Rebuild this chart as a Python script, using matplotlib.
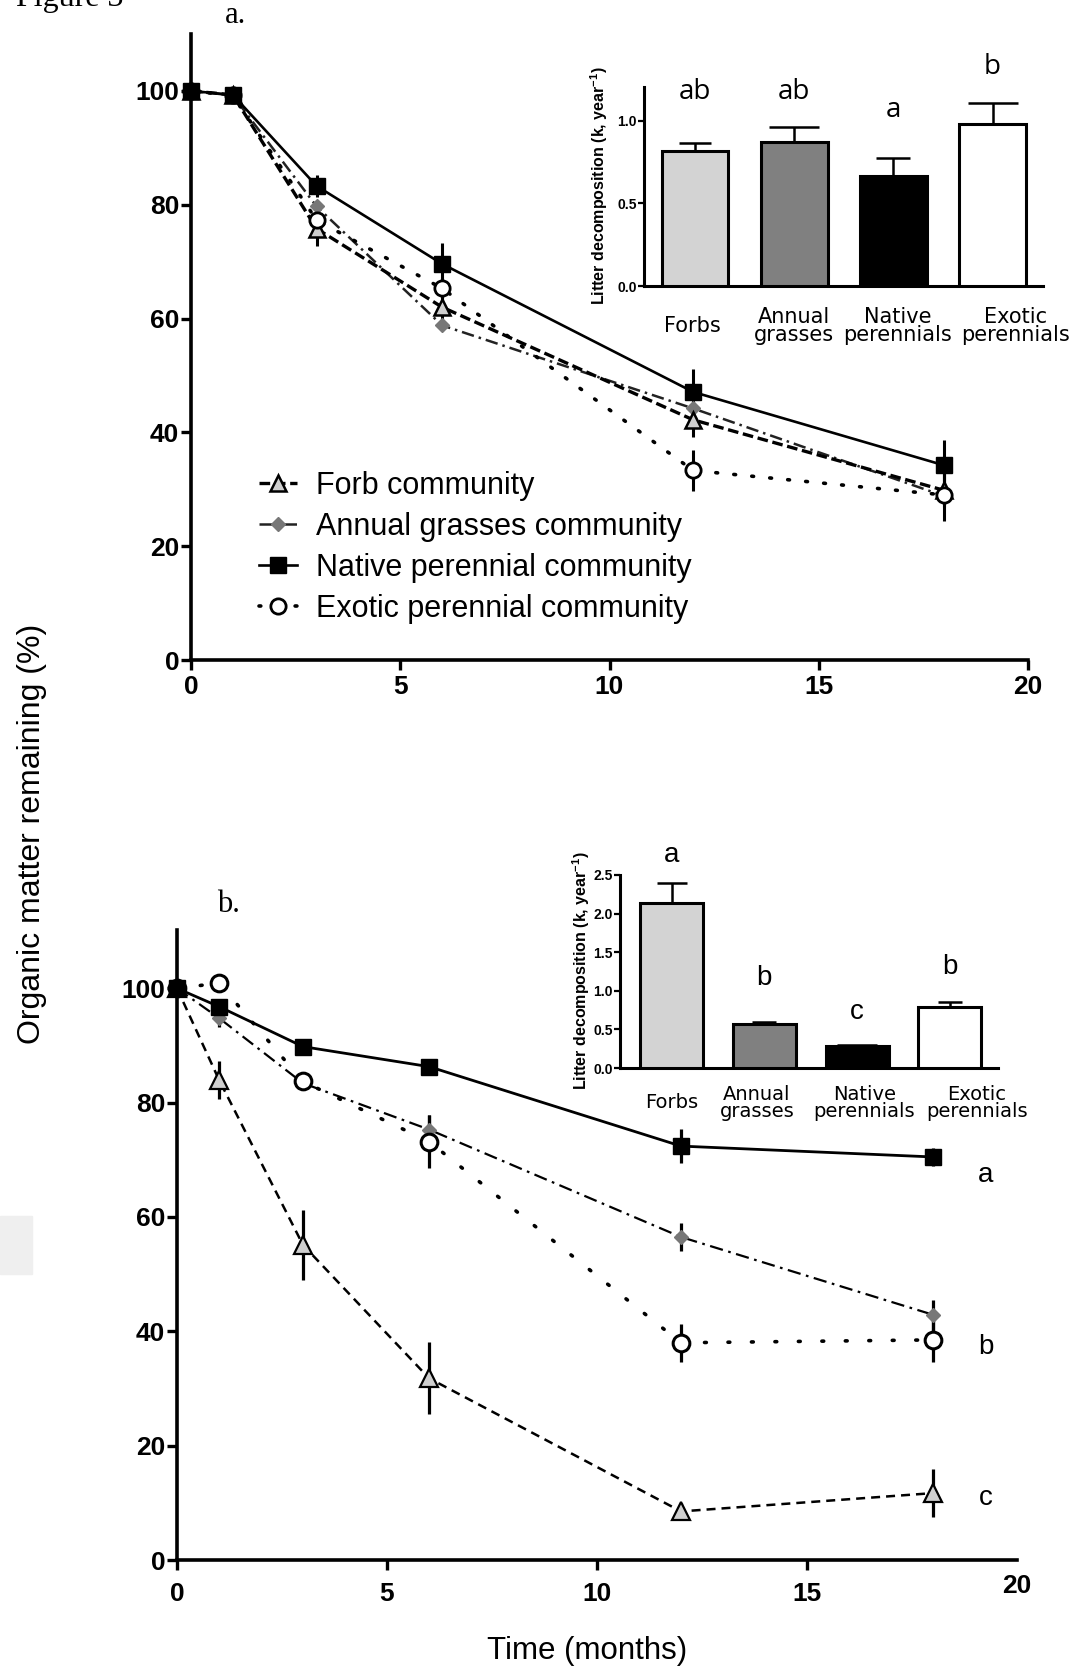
import numpy as np
import matplotlib
matplotlib.use("Agg")
import matplotlib.pyplot as plt
from matplotlib import font_manager as fm
from matplotlib.patches import Rectangle

# ---------------- data ----------------
months = [0, 1, 3, 6, 12, 18]
community_labels = ["Forb community", "Annual grasses community",
                    "Native perennial community", "Exotic perennial community"]

# panel a
a_forb = [100, 99.3, 75.8, 62.0, 42.2, 29.8]
a_forb_err = [0, 0.5, 3.0, 2.5, 3.0, 3.0]
a_annual = [100, 99.2, 79.7, 58.8, 44.2, 28.8]
a_annual_err = [0, 0.5, 1.0, 1.0, 1.0, 1.0]
a_native = [100, 99.3, 83.3, 69.6, 47.1, 34.2]
a_native_err = [0, 0.5, 2.0, 3.7, 4.1, 4.4]
a_exotic = [100, 99.2, 77.3, 65.3, 33.3, 29.0]
a_exotic_err = [0, 0.5, 2.0, 2.0, 3.6, 4.6]

# panel b
b_forb = [100, 84.0, 55.1, 31.8, 8.5, 11.7]
b_forb_err = [0, 3.3, 6.2, 6.3, 1.5, 4.2]
b_annual = [100, 94.8, 83.4, 75.3, 56.5, 42.9]
b_annual_err = [0, 1.5, 1.0, 2.5, 2.5, 2.6]
b_native = [100, 96.8, 89.8, 86.3, 72.4, 70.5]
b_native_err = [0, 1.0, 1.0, 1.0, 3.0, 1.5]
b_exotic = [100, 100.9, 83.7, 73.2, 38.0, 38.5]
b_exotic_err = [0, 0.5, 1.0, 4.7, 3.3, 3.8]
b_curve_letters = ["a", "b", "c"]

# insets
bar_categories = ["Forbs", "Annual\ngrasses", "Native\nperennials", "Exotic\nperennials"]
a_k = [0.82, 0.87, 0.665, 0.98]
a_k_err = [0.045, 0.093, 0.113, 0.127]
a_k_letters = ["ab", "ab", "a", "b"]
b_k = [2.135, 0.57, 0.28, 0.79]
b_k_err = [0.255, 0.025, 0.013, 0.06]
b_k_letters = ["a", "b", "c", "b"]

main_yticks = [0, 20, 40, 60, 80, 100]

# ---------------- fonts ----------------
def have(name):
    try:
        fm.findfont(fm.FontProperties(family=name), fallback_to_default=False)
        return True
    except Exception:
        return False

SANS = "Liberation Sans"
SERIF = "Liberation Serif"
NARROW = "Liberation Sans Narrow" if have("Liberation Sans Narrow") else None
LETTER = "Open Sans" if have("Open Sans") else SANS

plt.rcParams["font.family"] = [SANS, "DejaVu Sans"]
plt.rcParams["mathtext.fontset"] = "custom"
plt.rcParams["mathtext.rm"] = (NARROW or SANS) + ":bold"
plt.rcParams["mathtext.default"] = "rm"

W, H = 1077, 1672
fig = plt.figure(figsize=(W / 100, H / 100), dpi=100)
fig.patch.set_facecolor("white")

TICKSIZE = 19


def fbox(x0, y0, x1, y1):
    """pixel box (top-left origin) -> figure fraction rect"""
    return [x0 / W, 1 - y1 / H, (x1 - x0) / W, (y1 - y0) / H]


def style_main(ax, ymax):
    for s in ["top", "right"]:
        ax.spines[s].set_visible(False)
    for s in ["left", "bottom"]:
        ax.spines[s].set_linewidth(2.6)
    ax.set_xlim(0, 20)
    ax.set_ylim(0, ymax)
    ax.set_yticks(main_yticks)
    ax.tick_params(axis="both", direction="out", length=7, width=2.4,
                   labelsize=TICKSIZE)
    ax.set_facecolor("none")


def bold_ticks(ax):
    for lab in ax.get_xticklabels() + ax.get_yticklabels():
        lab.set_fontweight("bold")


# ---------------- panel a ----------------
ax1 = fig.add_axes(fbox(191, 34, 1028, 660))
style_main(ax1, 110)
ax1.set_xticks([0, 5, 10, 15, 20])
ax1.tick_params(axis="x", pad=4)
ax1.tick_params(axis="y", pad=1.5)
bold_ticks(ax1)

styles_a = [
    dict(ls=(0, (3.2, 1.4)), lw=2.4, color="black", marker="^", mfc="#cfcfcf",
         mec="black", ms=12, mew=1.8),
    dict(ls=(0, (5, 2, 1, 2)), lw=1.8, color="#222222", marker="D", mfc="#777777",
         mec="#777777", ms=7, mew=1),
    dict(ls="-", lw=1.9, color="black", marker="s", mfc="black", mec="black",
         ms=11.5, mew=1),
    dict(ls=(0, (0.5, 4.5)), lw=2.6, color="black", marker="o", mfc="white",
         mec="black", ms=11, mew=2, dash_capstyle="round"),
]
zorders = [4, 3, 6, 5]
series_a = [(a_forb, a_forb_err), (a_annual, a_annual_err),
            (a_native, a_native_err), (a_exotic, a_exotic_err)]
for (vals, err) in series_a:
    ax1.errorbar(months, vals, yerr=err, fmt="none", ecolor="black",
                 elinewidth=2.2, capsize=0, zorder=2, clip_on=False)
for idx in range(4):
    vals, err = series_a[idx]
    ax1.plot(months, vals, zorder=zorders[idx], clip_on=False, **styles_a[idx])
handles = [plt.Line2D([], [], **styles_a[idx]) for idx in range(4)]

fig.legend(handles, community_labels, loc="upper left",
           bbox_to_anchor=(259 / W, 1 - 471 / H), frameon=False,
           fontsize=22, handlelength=1.25, handletextpad=0.6,
           labelspacing=0.36, borderpad=0, borderaxespad=0)

# ---------------- panel b ----------------
ax2 = fig.add_axes(fbox(177, 930, 1017, 1560))
style_main(ax2, 110.2)
ax2.set_xticks([0, 5, 10, 15])
ax2.tick_params(axis="x", pad=9)
ax2.tick_params(axis="y", pad=1.5)
bold_ticks(ax2)
ax2.text(20, -0.042, "20", transform=ax2.get_xaxis_transform(), ha="center",
         va="center", fontsize=TICKSIZE, fontweight="bold", clip_on=False)

styles_b = [
    dict(ls=(0, (3.6, 2.4)), lw=1.8, color="black", marker="^", mfc="#cfcfcf",
         mec="black", ms=13, mew=1.6),
    dict(ls=(0, (6, 2.5, 1.2, 2.5)), lw=1.6, color="black", marker="D",
         mfc="#777777", mec="#777777", ms=7, mew=1),
    dict(ls="-", lw=2.0, color="black", marker="s", mfc="black", mec="black",
         ms=11.5, mew=1),
    dict(ls=(0, (0.5, 6)), lw=2.6, color="black", marker="o", mfc="white",
         mec="black", ms=12, mew=2.2, dash_capstyle="round"),
]
series_b = [(b_forb, b_forb_err), (b_annual, b_annual_err),
            (b_native, b_native_err), (b_exotic, b_exotic_err)]
for (vals, err) in series_b:
    ax2.errorbar(months, vals, yerr=err, fmt="none", ecolor="black",
                 elinewidth=2.3, capsize=0, zorder=2, clip_on=False)
for idx in range(4):
    vals, err = series_b[idx]
    ax2.plot(months, vals, zorder=zorders[idx], clip_on=False, **styles_b[idx])

letter_pos_b = [67.4, 37.3, 10.8]
for txt, yy in zip(b_curve_letters, letter_pos_b):
    ax2.text(19.25, yy, txt, ha="center", va="center", fontsize=20)

# ---------------- insets ----------------
bar_colors = ["#d3d3d3", "#808080", "#000000", "#ffffff"]


def make_inset(rect, vals, errs, letters, ylim, yticks, xlim, width, caps,
               lab_off, lab_y, let_y, lab_size, let_font, let_size):
    ins = fig.add_axes(rect)
    x = np.arange(len(vals))
    ins.bar(x, vals, width=width, color=bar_colors, edgecolor="black",
            linewidth=2.2, zorder=3)
    for xi, v, e, c in zip(x, vals, errs, caps):
        ins.errorbar([xi], [v], yerr=[[0], [e]], fmt="none", ecolor="black",
                     elinewidth=1.8, capsize=c, capthick=1.8, zorder=2)
    ins.set_xlim(*xlim)
    ins.set_ylim(*ylim)
    ins.set_yticks(yticks)
    ins.set_yticklabels(["%.1f" % t for t in yticks])
    ins.set_xticks([])
    for s in ["top", "right"]:
        ins.spines[s].set_visible(False)
    for s in ["left", "bottom"]:
        ins.spines[s].set_linewidth(2.2)
    ins.tick_params(axis="y", direction="out", length=4, width=1.6,
                    labelsize=10, pad=1.2)
    for lab in ins.get_yticklabels():
        lab.set_fontweight("bold")
    trans = ins.get_xaxis_transform()
    for xi, name, off in zip(x, bar_categories, lab_off):
        ins.text(xi + off, lab_y, name, transform=trans, ha="center",
                 va="center", fontsize=lab_size, linespacing=0.88,
                 family=["DejaVu Sans"], clip_on=False)
    for xi, txt, yy in zip(x, letters, let_y):
        ins.text(xi, yy, txt, ha="center", va="center", fontsize=let_size,
                 family=[let_font, "DejaVu Sans"], clip_on=False)
    ins.set_facecolor("none")
    return ins


ins1 = make_inset(fbox(644, 87, 1043, 286), a_k, a_k_err, a_k_letters,
                  (0, 1.206), [0.0, 0.5, 1.0], (-0.514, 3.508), 0.675,
                  [11.5, 18, 12.2, 18], [-0.03, 0.0, 0.04, 0.23], -0.2,
                  [1.176, 1.176, 1.067, 1.33], 15, LETTER, 20)
ins2 = make_inset(fbox(620, 875, 998, 1068), b_k, b_k_err, b_k_letters,
                  (0, 2.5), [0.0, 0.5, 1.0, 1.5, 2.0, 2.5], (-0.555, 3.518),
                  0.68, [10.8, 8.3, 14.4, 8.3], [0.0, -0.08, 0.08, 0.29],
                  -0.181, [2.76, 1.17, 0.73, 1.31], 14, SANS, 20)

ylab_inset = "Litter decomposition (k, year$^{-1}$)"
if NARROW:
    ifam, isize = [NARROW, SANS], 13.5
else:
    ifam, isize = [SANS], 11.5
fig.text(599 / W, 1 - 186 / H, ylab_inset, rotation=90, ha="center",
         va="center", fontsize=isize, fontweight="bold", family=ifam)
fig.text(581 / W, 1 - 971 / H, ylab_inset, rotation=90, ha="center",
         va="center", fontsize=isize, fontweight="bold", family=ifam)

# ---------------- labels ----------------
fig.text(32 / W, 1 - 834 / H, "Organic matter remaining (%)", rotation=90,
         ha="center", va="center", fontsize=23)
fig.text(587 / W, 1 - 1651 / H, "Time (months)", ha="center", va="center",
         fontsize=22.5)
fig.text(225 / W, 1 - 23 / H, "a.", ha="left", va="baseline", fontsize=22,
         family=[SERIF])
fig.text(217 / W, 1 - 912 / H, "b.", ha="left", va="baseline", fontsize=22,
         family=[SERIF])
fig.text(16 / W, 1 - 6 / H, "Figure 3", ha="left", va="baseline", fontsize=23,
         family=[SERIF])

# faint scanning artefact on the left margin
fig.patches.append(Rectangle((0, 1 - 1274 / H), 32 / W, 58 / H,
                             transform=fig.transFigure, color="#efefef",
                             zorder=0))

fig.savefig("out.png", dpi=100, facecolor="white")
